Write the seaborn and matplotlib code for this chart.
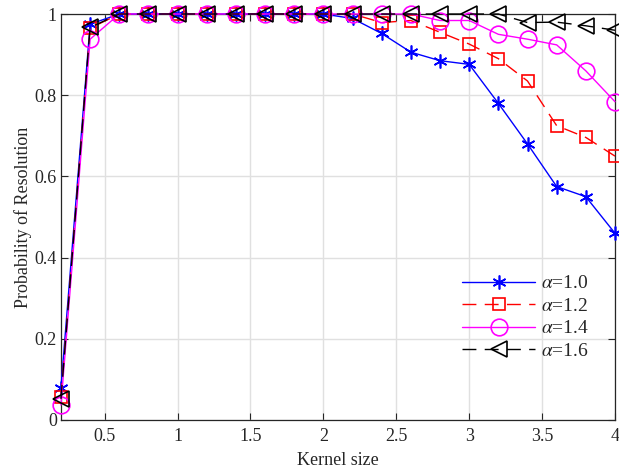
import matplotlib
matplotlib.use("Agg")
import matplotlib.pyplot as plt
import seaborn as sns
import numpy as np
import pandas as pd

kernel_size = [0.2, 0.4, 0.6, 0.8, 1.0, 1.2, 1.4, 1.6, 1.8, 2.0,
               2.2, 2.4, 2.6, 2.8, 3.0, 3.2, 3.4, 3.6, 3.8, 4.0]
p_alpha_10 = [0.08, 0.975, 1, 1, 1, 1, 1, 1, 1, 1,
              0.989, 0.952, 0.906, 0.885, 0.876, 0.78, 0.68, 0.575, 0.55, 0.46]
p_alpha_12 = [0.057, 0.965, 1, 1, 1, 1, 1, 1, 1, 1,
              1.0, 0.979, 0.984, 0.955, 0.926, 0.89, 0.835, 0.725, 0.696, 0.65]
p_alpha_14 = [0.037, 0.938, 1, 1, 1, 1, 1, 1, 1, 1,
              1, 1, 1, 0.984, 0.984, 0.95, 0.938, 0.924, 0.86, 0.784]
p_alpha_16 = [0.052, 0.967, 1, 1, 1, 1, 1, 1, 1, 1,
              1, 1, 1, 1, 1, 1.0, 0.979, 0.98, 0.971, 0.96]
labels = [r"$\alpha$=1.0", r"$\alpha$=1.2", r"$\alpha$=1.4", r"$\alpha$=1.6"]
x_ticks = [0.5, 1, 1.5, 2, 2.5, 3, 3.5, 4]
x_tick_labels = ["0.5", "1", "1.5", "2", "2.5", "3", "3.5", "4"]
y_ticks = [0, 0.2, 0.4, 0.6, 0.8, 1]
y_tick_labels = ["0", "0.2", "0.4", "0.6", "0.8", "1"]

sns.set_theme(style="whitegrid")
plt.rcParams["font.family"] = ["Liberation Serif", "DejaVu Serif"]
plt.rcParams["mathtext.fontset"] = "stix"

fig = plt.figure(figsize=(6.19, 4.75), dpi=100)
ax = fig.add_axes([0.0985, 0.1158, 0.8950, 0.8547])

series = [p_alpha_10, p_alpha_12, p_alpha_14, p_alpha_16]
colors = ["#0000ff", "#ff0000", "#ff00ff", "#000000"]
markers = [(6, 2, 0), "s", "o", "<"]
msizes = [10, 9, 12, 12]
dashes = [None, (10, 6), None, (10, 6)]

for vals, lab, c, m, ms, d in zip(series, labels, colors, markers, msizes, dashes):
    df = pd.DataFrame({"x": kernel_size, "y": vals})
    kw = dict(x="x", y="y", data=df, ax=ax, color=c, marker=m, markersize=ms,
              markerfacecolor="none", markeredgecolor=c, markeredgewidth=1.2,
              linewidth=1.0, label=lab)
    line_ax = sns.lineplot(**kw)
    ln = line_ax.lines[-1]
    ln.set_clip_on(False)
    ln.set_zorder(5)
    if d is not None:
        ln.set_dashes(d)

ax.set_xlim(0.2, 4)
ax.set_ylim(0, 1)
ax.set_xticks(x_ticks)
ax.set_xticklabels(x_tick_labels)
ax.set_yticks(y_ticks)
ax.set_yticklabels(y_tick_labels)
ax.set_xlabel("Kernel size", fontsize=13, color="#262626", labelpad=5)
ax.set_ylabel("Probability of Resolution", fontsize=13, color="#262626", labelpad=2)
ax.tick_params(axis="both", labelsize=13, colors="#262626", direction="in",
               length=5, width=0.8)
ax.tick_params(axis="x", pad=6)
ax.tick_params(axis="y", pad=3)
ax.tick_params(axis="both", which="both", top=True, right=True, left=True, bottom=True)
ax.grid(True, color="#e0e0e0", linewidth=1.0)
ax.set_axisbelow(True)
for s in ax.spines.values():
    s.set_color("#262626")
    s.set_linewidth(0.9)
ax.set_facecolor("white")

leg = ax.legend(loc="lower right", bbox_to_anchor=(0.985, 0.105), frameon=False,
                fontsize=14, handlelength=3.8, labelspacing=0.25, handletextpad=0.3)
for t in leg.get_texts():
    t.set_color("#262626")

fig.savefig("out.png", dpi=100)
